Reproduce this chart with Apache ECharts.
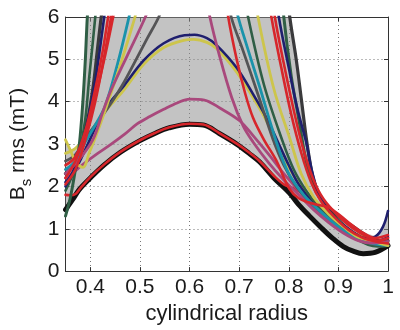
<!DOCTYPE html>
<html><head><meta charset="utf-8">
<script src="https://cdn.jsdelivr.net/npm/echarts@6/dist/echarts.min.js"></script>
<style>html,body{margin:0;padding:0;background:#fff}#c{width:400px;height:330px}</style>
</head><body><div id="c"></div>
<script>
// ---- data ----
const xLabelValues = [0.4, 0.5, 0.6, 0.7, 0.8, 0.9, 1];
const yLabelValues = [0, 1, 2, 3, 4, 5, 6];

const blackArc = [[0.35,1.45],[0.365,1.7],[0.378,1.93],[0.40,2.2],[0.428,2.51],[0.46,2.8],[0.5,3.08],[0.53,3.25],[0.558,3.38],[0.6,3.47],[0.628,3.45],[0.66,3.25],[0.695,3.0],[0.72,2.78],[0.741,2.58],[0.77,2.2],[0.801,1.85],[0.82,1.57],[0.841,1.31],[0.865,1.03],[0.888,0.78],[0.91,0.58],[0.93,0.47],[0.95,0.41],[0.974,0.44],[1.0,0.6]];
const redArc = [[0.35,1.8],[0.36,1.79],[0.37,1.82],[0.38,1.96],[0.40,2.22],[0.428,2.52],[0.46,2.81],[0.5,3.09],[0.53,3.26],[0.558,3.39],[0.6,3.48],[0.628,3.46],[0.66,3.26],[0.695,3.01],[0.72,2.8],[0.741,2.6],[0.77,2.25],[0.79,2.05],[0.81,1.95],[0.84,1.75],[0.87,1.45],[0.9,1.12],[0.93,0.9],[0.96,0.78],[0.98,0.72],[1.0,0.7]];
const magentaArc = [[0.35,2.2],[0.365,2.32],[0.384,2.51],[0.41,2.74],[0.44,2.98],[0.47,3.24],[0.495,3.48],[0.52,3.65],[0.548,3.82],[0.575,3.97],[0.6,4.06],[0.63,4.04],[0.661,3.85],[0.701,3.55],[0.728,3.2],[0.76,2.75],[0.79,2.3],[0.82,1.9],[0.85,1.5],[0.88,1.2],[0.91,0.95],[0.94,0.75],[0.97,0.68],[1.0,0.72]];
const yellowArc = [[0.35,2.78],[0.37,2.9],[0.395,3.2],[0.428,3.74],[0.468,4.28],[0.508,4.89],[0.548,5.28],[0.588,5.45],[0.608,5.47],[0.635,5.4],[0.655,5.25],[0.695,4.7],[0.728,4.1],[0.755,3.55],[0.78,2.95],[0.8,2.45],[0.83,1.9],[0.86,1.5],[0.9,1.1],[0.94,0.85],[0.97,0.78],[1.0,0.68]];
const navyArc = [[0.35,2.1],[0.37,2.4],[0.395,3.0],[0.428,3.8],[0.468,4.38],[0.508,4.98],[0.548,5.38],[0.59,5.57],[0.61,5.58],[0.635,5.5],[0.655,5.33],[0.695,4.8],[0.728,4.18],[0.755,3.62],[0.78,3.0],[0.8,2.5],[0.82,2.05],[0.85,1.6],[0.88,1.3],[0.9,1.13],[0.93,0.9],[0.955,0.78],[0.975,0.82],[0.99,1.05],[1.0,1.42]];
const darkGreenA = [[0.35,1.3],[0.36,1.75],[0.37,2.4],[0.378,3.0],[0.385,4.0],[0.39,5.0],[0.394,6],[0.398,6.6],[0.6,'-'],[0.785,6.8],[0.79,6],[0.805,4.6],[0.82,3.6],[0.835,2.6],[0.85,2.0],[0.87,1.6],[0.9,1.2],[0.93,0.9],[0.96,0.7],[0.98,0.62],[1.0,0.65]];
const darkGreenB = [[0.35,1.9],[0.365,2.3],[0.378,2.8],[0.39,3.6],[0.398,4.6],[0.405,5.4],[0.41,6],[0.415,6.5],[0.6,'-'],[0.712,6.5],[0.718,6],[0.75,4.4],[0.788,3.05],[0.81,2.4],[0.835,1.9],[0.865,1.45],[0.9,1.05],[0.93,0.8],[0.96,0.62],[0.98,0.58],[1.0,0.6]];
const grayA = [[0.35,2.3],[0.37,2.6],[0.39,3.3],[0.405,4.3],[0.415,5.3],[0.422,6],[0.428,6.5],[0.6,'-'],[0.797,6.6],[0.802,6],[0.815,5],[0.826,4],[0.837,3],[0.849,2.2],[0.862,1.75],[0.88,1.5],[0.905,1.25],[0.93,1.05],[0.955,0.85],[0.975,0.72],[1.0,0.72]];
const grayB = [[0.35,2.6],[0.37,2.75],[0.394,3.2],[0.42,3.6],[0.441,3.95],[0.465,4.4],[0.488,4.9],[0.515,5.5],[0.538,6],[0.55,6.4],[0.6,'-'],[0.68,6.4],[0.684,6],[0.708,5.2],[0.74,4.1],[0.768,3.12],[0.79,2.5],[0.815,2.0],[0.845,1.6],[0.875,1.3],[0.905,1.05],[0.935,0.8],[0.965,0.65],[1.0,0.62]];
const navyA = [[0.35,2.0],[0.37,2.5],[0.39,3.3],[0.41,4.5],[0.42,5.3],[0.428,6],[0.434,6.5],[0.6,'-'],[0.775,6.6],[0.78,6],[0.8,4.8],[0.818,3.8],[0.835,3.05],[0.848,2.3],[0.865,1.7],[0.89,1.3],[0.92,1.0],[0.95,0.78],[0.975,0.7],[1.0,0.8]];
const tealA = [[0.35,2.4],[0.37,2.6],[0.39,3.05],[0.41,3.45],[0.43,3.9],[0.455,4.9],[0.478,6],[0.485,6.4],[0.6,'-'],[0.69,6.4],[0.698,6],[0.708,5.6],[0.74,4.4],[0.775,3.05],[0.8,2.3],[0.83,1.8],[0.86,1.45],[0.9,1.05],[0.94,0.75],[0.97,0.65],[1.0,0.6]];
const yellowA = [[0.35,3.1],[0.36,2.85],[0.372,2.55],[0.385,2.45],[0.398,2.8],[0.41,3.15],[0.43,3.8],[0.46,4.85],[0.485,5.8],[0.49,6],[0.5,6.5],[0.6,'-'],[0.733,6.5],[0.738,6],[0.77,4.3],[0.803,3.1],[0.825,2.3],[0.85,1.75],[0.88,1.35],[0.91,1.05],[0.94,0.8],[0.97,0.7],[1.0,0.6]];
const magentaA = [[0.35,2.3],[0.375,2.6],[0.405,3.1],[0.425,3.75],[0.441,4.25],[0.475,5.1],[0.511,6],[0.52,6.3],[0.6,'-'],[0.636,6.4],[0.641,6],[0.66,5.1],[0.685,4.1],[0.708,3.43],[0.728,3.05],[0.76,2.55],[0.79,2.15],[0.82,1.8],[0.85,1.45],[0.88,1.15],[0.91,0.9],[0.94,0.72],[0.97,0.66],[1.0,0.7]];
const redA = [[0.35,2.2],[0.37,2.6],[0.39,3.3],[0.41,4.3],[0.425,5.2],[0.436,6],[0.442,6.4],[0.6,'-'],[0.76,6.5],[0.765,6],[0.785,4.8],[0.805,3.7],[0.825,2.8],[0.845,2.1],[0.865,1.65],[0.89,1.3],[0.92,0.98],[0.95,0.78],[0.975,0.7],[1.0,0.65]];
const redB = [[0.35,2.05],[0.37,2.4],[0.39,3.1],[0.41,4.0],[0.43,5.2],[0.442,6],[0.448,6.4],[0.6,'-'],[0.768,6.5],[0.772,6],[0.79,4.9],[0.81,3.8],[0.83,2.85],[0.85,2.15],[0.87,1.7],[0.9,1.3],[0.93,1.0],[0.96,0.8],[0.98,0.72],[1.0,0.78]];
const redC = [[0.35,2.5],[0.37,2.7],[0.39,3.3],[0.41,4.1],[0.43,5.1],[0.446,6],[0.452,6.4],[0.6,'-'],[0.673,6.5],[0.678,6],[0.695,5.0],[0.712,4.2],[0.728,3.62],[0.75,3.1],[0.774,2.63],[0.801,1.95],[0.82,1.72],[0.841,1.62],[0.86,1.56],[0.881,1.5],[0.905,1.3],[0.928,1.08],[0.95,0.9],[0.974,0.78],[1.0,0.85]];

// outline of the grey band (upper edge left->right, lower edge right->left)
const fillUpper = [[0.35,3.1],[0.36,2.86],[0.37,2.92],[0.378,3.06],[0.385,4.0],[0.39,5.0],[0.394,6],[0.802,6],[0.815,5],[0.826,4],[0.837,3],[0.849,2.2],[0.862,1.75],[0.88,1.5],[0.905,1.3],[0.928,1.1],[0.95,0.92],[0.975,0.82],[0.99,1.05],[1.0,1.42]];
const fillLower = [[1.0,0.6],[0.974,0.44],[0.95,0.41],[0.93,0.47],[0.91,0.58],[0.888,0.78],[0.865,1.03],[0.841,1.31],[0.82,1.57],[0.801,1.85],[0.77,2.2],[0.741,2.58],[0.72,2.78],[0.695,3.0],[0.66,3.25],[0.628,3.45],[0.6,3.47],[0.558,3.38],[0.53,3.25],[0.5,3.08],[0.46,2.8],[0.428,2.51],[0.4,2.2],[0.378,1.93],[0.365,1.65],[0.357,1.45],[0.35,1.3]];

const C = {black:'#111111', red:'#d7262b', magenta:'#a9487c', yellow:'#cdc54c', navy:'#1f1f6e', gray:'#545456', teal:'#1a93ab', green:'#2f5e45'};

const curves = [
  {d: blackArc, c: C.black, w: 5},
  {d: redArc, c: C.red, w: 2.6},
  {d: magentaArc, c: C.magenta, w: 2.8},
  {d: yellowArc, c: C.yellow, w: 2.8},
  {d: navyArc, c: C.navy, w: 2.6},
  {d: darkGreenA, c: C.green, w: 3},
  {d: darkGreenB, c: C.green, w: 2.6},
  {d: grayA, c: '#3a3a3c', w: 3.2},
  {d: grayB, c: C.gray, w: 2.8},
  {d: navyA, c: C.navy, w: 2.6},
  {d: tealA, c: C.teal, w: 2.8},
  {d: yellowA, c: C.yellow, w: 2.8},
  {d: magentaA, c: C.magenta, w: 2.8},
  {d: redA, c: C.red, w: 2.6},
  {d: redB, c: C.red, w: 2.6},
  {d: redC, c: C.red, w: 2.6}
];

const FONT = 'Liberation Sans';
const chart = echarts.init(document.getElementById('c'), null, {renderer: 'canvas'});

const series = [{
  type: 'custom',
  coordinateSystem: 'cartesian2d',
  xAxisIndex: 0, yAxisIndex: 0,
  z: 1,
  silent: true,
  data: [[0.6, 3]],
  renderItem: function (params, api) {
    const pts = fillUpper.concat(fillLower).map(p => api.coord(p));
    return {type: 'polygon', shape: {points: pts}, style: {fill: 'rgba(140,140,140,0.52)', stroke: null}};
  }
}];
curves.forEach(function (cv) {
  series.push({
    type: 'line', xAxisIndex: 0, yAxisIndex: 0, z: 2,
    data: cv.d, smooth: 0.35, showSymbol: false, symbol: 'none', silent: true,
    clip: true,
    lineStyle: {color: cv.c, width: cv.w, cap: 'round', join: 'round'}
  });
});

const xTickFmt = v => xLabelValues.some(t => Math.abs(t - v) < 1e-6) ? (Math.round(v * 10) / 10).toString() : '';

chart.setOption({
  animation: false,
  backgroundColor: '#ffffff',
  grid: {left: 61, right: 12, top: 17, bottom: 53, containLabel: false},
  xAxis: [{
    type: 'value', min: 0.35, max: 1.0, splitNumber: 6, position: 'bottom',
    name: 'cylindrical radius', nameLocation: 'middle', nameGap: 22,
    nameTextStyle: {fontFamily: FONT, fontSize: 22, color: '#1a1a1a'},
    axisLine: {show: true, onZero: false, lineStyle: {color: '#333', width: 1}},
    axisTick: {show: true, inside: true, length: 4, lineStyle: {color: '#333'}},
    axisLabel: {show: true, margin: 6, fontFamily: FONT, fontSize: 21, color: '#1a1a1a', showMinLabel: false, formatter: xTickFmt},
    splitLine: {show: true, lineStyle: {color: '#777', width: 1, type: [1, 3]}}
  }, {
    type: 'value', min: 0.35, max: 1.0, splitNumber: 6, position: 'top',
    axisLine: {show: true, onZero: false, lineStyle: {color: '#333', width: 1}},
    axisTick: {show: true, inside: true, length: 4, lineStyle: {color: '#333'}},
    axisLabel: {show: false}, splitLine: {show: false}
  }],
  yAxis: [{
    type: 'value', min: 0, max: 6, interval: 1, position: 'left',
    name: '{b|B}{s|s}{b| rms (mT)}', nameLocation: 'middle', nameGap: 31, nameRotate: 90,
    nameTextStyle: {fontFamily: FONT, color: '#1a1a1a',
      rich: {b: {fontFamily: FONT, fontSize: 21, color: '#1a1a1a'},
             s: {fontFamily: FONT, fontSize: 15, color: '#1a1a1a', padding: [17, 0, 0, 0]}}},
    axisLine: {show: true, onZero: false, lineStyle: {color: '#333', width: 1}},
    axisTick: {show: true, inside: true, length: 4, lineStyle: {color: '#333'}},
    axisLabel: {show: true, margin: 6, fontFamily: FONT, fontSize: 21, color: '#1a1a1a',
      formatter: v => yLabelValues.indexOf(v) >= 0 ? String(v) : ''},
    splitLine: {show: true, lineStyle: {color: '#777', width: 1, type: [1, 3]}}
  }, {
    type: 'value', min: 0, max: 6, interval: 1, position: 'right',
    axisLine: {show: true, onZero: false, lineStyle: {color: '#333', width: 1}},
    axisTick: {show: true, inside: true, length: 4, lineStyle: {color: '#333'}},
    axisLabel: {show: false}, splitLine: {show: false}
  }],
  series: series
});
</script>
</body></html>
